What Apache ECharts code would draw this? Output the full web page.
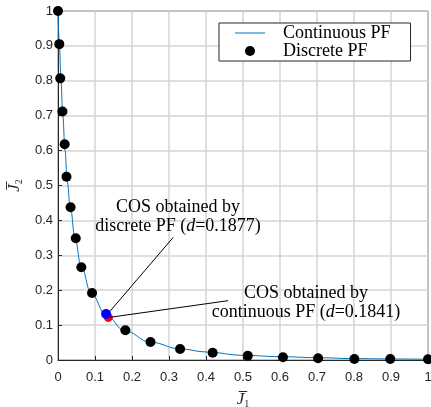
<!DOCTYPE html>
<html>
<head>
<meta charset="utf-8">
<script src="https://cdn.jsdelivr.net/npm/echarts@6/dist/echarts.min.js"></script>
<style>html,body{margin:0;padding:0;background:#fff}#c{width:431px;height:407px}</style>
</head>
<body>
<div id="c"></div>
<script>
const tickValues = [0, 0.1, 0.2, 0.3, 0.4, 0.5, 0.6, 0.7, 0.8, 0.9, 1];
const contJ1 = [0, 0.004, 0.008, 0.013, 0.019, 0.025, 0.033, 0.046, 0.062, 0.09, 0.13, 0.18, 0.25, 0.33, 0.40, 0.50, 0.60, 0.70, 0.80, 0.90, 1.0];
const contJ2 = [1, 0.9, 0.8, 0.7, 0.6, 0.51, 0.44, 0.35, 0.27, 0.19, 0.128, 0.084, 0.051, 0.032, 0.023, 0.0135, 0.0095, 0.0066, 0.004, 0.003, 0.002];
const discJ1 = [0, 0.0035, 0.006, 0.012, 0.018, 0.023, 0.034, 0.048, 0.063, 0.092, 0.182, 0.250, 0.330, 0.418, 0.513, 0.608, 0.703, 0.801, 0.898, 1.0];
const discJ2 = [1, 0.905, 0.807, 0.712, 0.618, 0.525, 0.4375, 0.349, 0.266, 0.192, 0.085, 0.0516, 0.0315, 0.021, 0.0123, 0.0077, 0.0048, 0.003, 0.003, 0.002];
const cosDiscrete = [0.130, 0.132];
const cosContinuous = [0.136, 0.122];

const chart = echarts.init(document.getElementById('c'));
const serif = 'Liberation Serif';
const sans = 'Liberation Sans';
const axisCommon = {
  type: 'value', min: 0, max: 1, interval: 0.1,
  axisLine: {show: true, onZero: false, lineStyle: {color: '#262626', width: 1}},
  axisTick: {show: true, inside: true, length: 4, lineStyle: {color: '#262626'}},
  splitLine: {show: true, lineStyle: {color: '#d4d4d4', width: 1.5}},
  axisLabel: {color: '#262626', fontFamily: sans, fontSize: 13,
    formatter: v => (Math.round(v * 10) / 10).toString()}
};
const nameRich = {
  j: {fontFamily: serif, fontStyle: 'italic', fontSize: 17, color: '#262626'},
  s: {fontFamily: serif, fontSize: 10, color: '#262626', verticalAlign: 'bottom', padding: [8, 0, 0, 0]}
};
const annRich = {
  n: {fontFamily: serif, fontSize: 18, lineHeight: 19, color: '#000'},
  i: {fontFamily: serif, fontSize: 18, fontStyle: 'italic', lineHeight: 19, color: '#000'}
};
chart.setOption({
  animation: false,
  grid: {left: 58, right: 3, top: 11, bottom: 47, show: true, borderColor: '#262626', borderWidth: 1,
    containLabel: false, outerBoundsMode: 'none'},
  xAxis: Object.assign({}, axisCommon, {
    axisLabel: Object.assign({}, axisCommon.axisLabel, {margin: 11}),
    name: '{j|J\u0305}{s|1}', nameLocation: 'middle', nameGap: 31,
    nameTextStyle: {rich: nameRich}
  }),
  yAxis: Object.assign({}, axisCommon, {
    axisLabel: Object.assign({}, axisCommon.axisLabel, {margin: 5}),
    name: '{j|J\u0305}{s|2}', nameLocation: 'middle', nameGap: 34,
    nameTextStyle: {rich: nameRich}
  }),
  legend: {
    data: [
      {name: 'Continuous PF', icon: 'path://M0,0 H30 V1 H0 Z', itemStyle: {color: '#0072BD'}},
      {name: 'Discrete PF', icon: 'circle', itemStyle: {color: '#000'}}
    ],
    orient: 'vertical', left: 219, top: 23,
    padding: [1, 20, 1, 16],
    itemGap: 0, itemWidth: 30, itemHeight: 10,
    backgroundColor: '#fff', borderColor: '#262626', borderWidth: 1,
    textStyle: {fontFamily: serif, fontSize: 18, color: '#000', lineHeight: 17, padding: [0, 0, 0, 13]}
  },
  series: [
    {
      name: 'Continuous PF', type: 'line', data: contJ1.map((x, i) => [x, contJ2[i]]),
      showSymbol: false, symbol: 'none', smooth: 0.4, smoothMonotone: 'x',
      lineStyle: {color: '#0072BD', width: 1}, itemStyle: {color: '#0072BD'}, z: 2,
      markLine: {
        silent: true, symbol: 'none', label: {show: false},
        lineStyle: {color: '#000', width: 1, type: 'solid'},
        data: [
          [{coord: [0.3116, 0.3516]}, {coord: [0.136, 0.134]}],
          [{coord: [0.460, 0.170]}, {coord: [0.140, 0.1223]}]
        ]
      }
    },
    {
      name: 'Discrete PF', type: 'scatter', data: discJ1.map((x, i) => [x, discJ2[i]]),
      symbol: 'circle', symbolSize: 10, itemStyle: {color: '#000', opacity: 1}, z: 3
    },
    {
      name: 'COS continuous', type: 'scatter', data: [cosContinuous],
      symbolSize: 9, itemStyle: {color: '#ff0000', opacity: 1}, z: 4
    },
    {
      name: 'COS discrete', type: 'scatter', data: [cosDiscrete],
      symbolSize: 10, itemStyle: {color: '#0000ff', opacity: 1}, z: 5
    }
  ],
  graphic: [
    {type: 'text', x: 178, y: 198, z: 10, style: {
      text: '{n|COS obtained by}\n{n|discrete PF (}{i|d}{n|=0.1877)}', align: 'center',
      rich: annRich
    }},
    {type: 'text', x: 306, y: 284, z: 10, style: {
      text: '{n|COS obtained by}\n{n|continuous PF (}{i|d}{n|=0.1841)}', align: 'center',
      rich: annRich
    }}
  ]
});
</script>
</body>
</html>
